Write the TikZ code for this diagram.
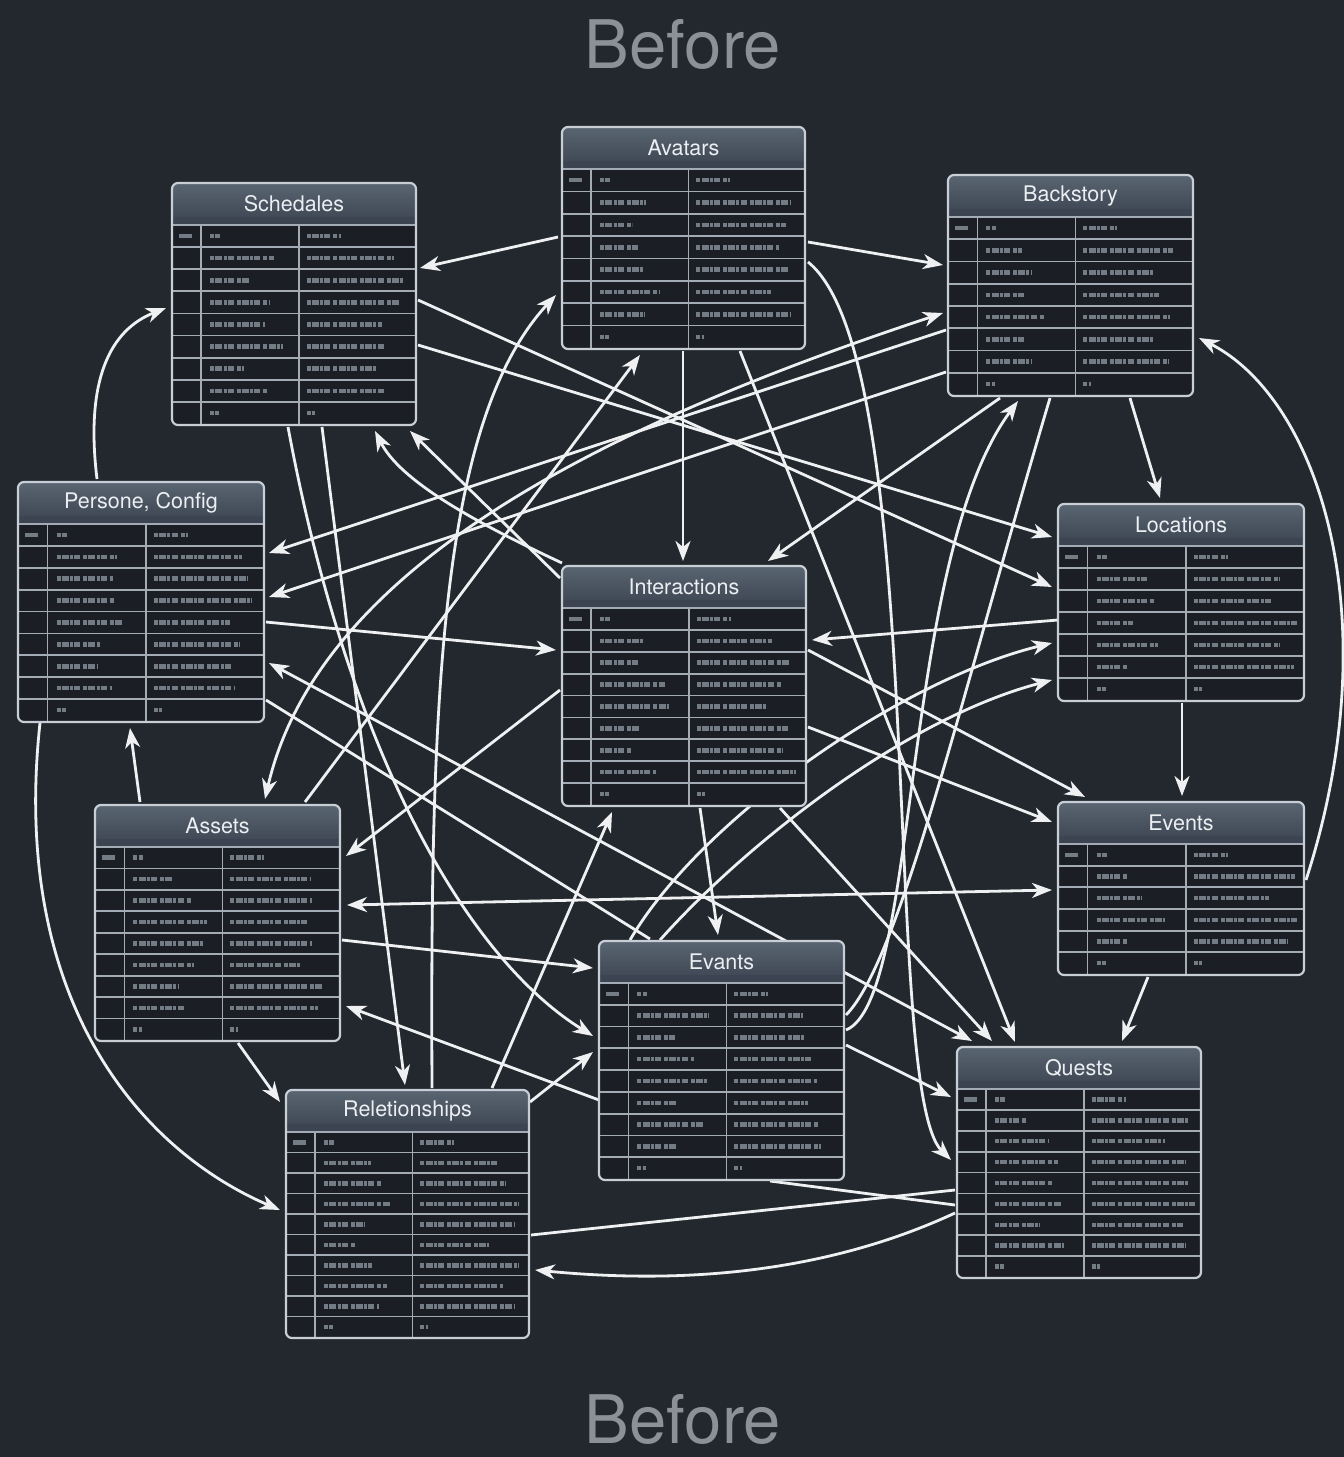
\documentclass[tikz,border=0pt]{standalone}
\usepackage{fontspec}
\setmainfont{TeX Gyre Heros}
\usetikzlibrary{arrows.meta,calc}
\definecolor{bgc}{HTML}{23282F}
\definecolor{hdrtop}{HTML}{5A6572}
\definecolor{hdrbot}{HTML}{3B4450}
\definecolor{bodyc}{HTML}{1B1F25}
\definecolor{gridc}{HTML}{A3ABB5}
\definecolor{borderc}{HTML}{C8CED6}
\definecolor{txtc}{HTML}{ECEFF2}
\definecolor{blurc}{HTML}{8A929C}
\definecolor{linec}{HTML}{EEF0F2}
\definecolor{titlec}{HTML}{8C9199}
\pgfdeclarelayer{bg}\pgfdeclarelayer{edges}\pgfsetlayers{bg,edges,main}
\tikzset{
 tbl/.style={fill=bodyc, inner sep=0pt, outer sep=0pt, rectangle, rounded corners=6pt},
 hdrtext/.style={text=txtc, font=\fontsize{21.5}{22}\selectfont, inner sep=0pt},
 bigtitle/.style={text=titlec, font=\fontsize{67}{67}\selectfont, inner sep=0pt},
 gridln/.style={draw=gridc, line width=1.7pt},
 tblborder/.style={draw=borderc, line width=2.2pt, rounded corners=6pt},
 blurtxt/.style={draw=blurc, line width=4.5pt, opacity=0.8, dash pattern=on 4pt off 1.2pt on 7pt off 1.2pt on 3pt off 1.2pt on 6pt off 3pt},
 conn/.style={draw=linec, line width=2.8pt, -{Stealth[length=20pt,width=15pt,inset=6pt]}},
 connb/.style={draw=linec, line width=2.8pt, {Stealth[length=20pt,width=15pt,inset=6pt]}-{Stealth[length=20pt,width=15pt,inset=6pt]}},
 pline/.style={draw=linec, line width=2.8pt},
}
\newcommand\dbtab[7]{%
 \pgfmathsetmacro\tw{#4-#2}%
 \pgfmathsetmacro\tht{#5-#3}%
 \pgfmathsetmacro\hy{#3+41}%
 \pgfmathsetmacro\ry{#3+42}%
 \pgfmathsetmacro\rh{(#5-1-\ry)/#6}%
 \pgfmathsetmacro\ca{#2+0.12*\tw}%
 \pgfmathsetmacro\cb{#2+0.52*\tw}%
 \pgfmathtruncatemacro\nm{#6-1}%
 \node[tbl, anchor=north west, minimum width=\tw pt, minimum height=\tht pt] (#1) at (#2,#3) {};
 \shade[top color=hdrtop, bottom color=hdrbot, rounded corners=6pt] (#2,#3) rectangle (#4,\hy);
 \fill[hdrbot] (#2,\hy-7) rectangle (#4,\hy);
 \node[hdrtext] (#1t) at ({(#2+#4)/2},{#3+21}) {#7};
 \foreach \k in {0,...,\nm}{\draw[gridln] (#2,{\ry+\k*\rh}) -- (#4,{\ry+\k*\rh});}
 \draw[gridln] (\ca,\hy) -- (\ca,#5);
 \draw[gridln] (\cb,\hy) -- (\cb,#5);
 \foreach \k in {1,...,#6}{%
   \pgfmathsetmacro\yy{\ry+(\k-0.5)*\rh}%
   \pgfmathsetmacro\la{ifthenelse(\k==1,10,ifthenelse(\k==#6,9,30+45*rnd))}%
   \pgfmathsetmacro\lb{ifthenelse(\k==1,34,ifthenelse(\k==#6,8,68+38*rnd))}%
   \draw[blurtxt] (\ca+9,\yy) -- ++(\la,0);
   \draw[blurtxt] (\cb+8,\yy) -- ++(\lb,0);
 }
 \draw[blurtxt, solid] (#2+7,{\ry+0.5*\rh}) -- ++(13,0);
 \draw[tblborder] (#1.north west) rectangle (#1.south east);
}
\begin{document}
\begin{tikzpicture}[x=1pt,y=-1pt]
\useasboundingbox (0,0) rectangle (1344,1457);
\pgfmathsetseed{11}
\begin{pgfonlayer}{bg}\fill[bgc] (0,0) rectangle (1344,1457);\end{pgfonlayer}
\node[bigtitle] (ttop) at (683,44) {Before};
\node[bigtitle] (tbot) at (683,1419) {Before};
\dbtab{av}{562}{127}{805}{349}{8}{Avatars}
\dbtab{sc}{172}{183}{416}{425}{9}{Schedales}
\dbtab{bs}{948}{175}{1193}{396}{8}{Backstory}
\dbtab{pc}{18}{482}{264}{722}{9}{Persone, Config}
\dbtab{lo}{1058}{504}{1304}{701}{7}{Locations}
\dbtab{in}{562}{566}{806}{806}{9}{Interactions}
\dbtab{as}{95}{805}{340}{1041}{9}{Assets}
\dbtab{ev}{1058}{802}{1304}{975}{6}{Events}
\dbtab{ea}{599}{941}{844}{1180}{9}{Evants}
\dbtab{re}{286}{1090}{529}{1338}{10}{Reletionships}
\dbtab{qu}{957}{1047}{1201}{1278}{9}{Quests}
\begin{pgfonlayer}{edges}
\draw[conn] ($(av.north west)+(-4,110)$) -- ($(sc.north west)+(248,85)$);
\draw[conn] ($(av.north west)+(246,115)$) -- ($(bs.north west)+(-5,90)$);
\draw[conn] ($(av.north west)+(121,224)$) -- ($(in.north west)+(121,-5)$);
\draw[conn] ($(av.north west)+(178,224)$) -- ($(qu.north west)+(58,-5)$);
\draw[conn] ($(av.north west)+(246,135)$) .. controls (930,360) and (880,1090) .. ($(qu.north west)+(-6,113)$);
\draw[conn] ($(pc.north west)+(79,-3)$) .. controls (85,380) and (110,330) .. ($(sc.north west)+(-6,125)$);
\draw[conn] ($(as.north west)+(45,-3)$) -- ($(pc.north west)+(112,246)$);
\draw[conn] ($(pc.north west)+(22,241)$) .. controls (10,1000) and (140,1150) .. ($(re.north west)+(-6,120)$);
\draw[conn] ($(bs.north west)+(182,223)$) -- ($(lo.north west)+(102,-6)$);
\draw[conn] ($(lo.north west)+(124,199)$) -- ($(ev.north west)+(124,-6)$);
\draw[conn] ($(ev.north west)+(90,175)$) -- ($(qu.north west)+(165,-6)$);
\draw[conn] ($(ev.north west)+(248,78)$) .. controls (1390,620) and (1320,400) .. ($(bs.north west)+(251,163)$);
\draw[pline] ($(re.north west)+(245,145)$) -- ($(qu.north west)+(-2,143)$);
\draw[conn] ($(qu.north west)+(-2,166)$) .. controls (800,1285) and (640,1280) .. ($(re.north west)+(249,180)$);
\draw[pline] ($(ea.north west)+(171,240)$) -- ($(qu.north west)+(-2,158)$);
\draw[conn] ($(as.north west)+(143,238)$) -- ($(re.north west)+(-6,12)$);
\draw[conn] ($(sc.north west)+(150,244)$) -- ($(re.north west)+(119,-5)$);
\draw[conn] ($(ea.north west)+(247,104)$) -- ($(qu.north west)+(-6,50)$);
\draw[conn] ($(ea.north west)+(247,89)$) .. controls (920,1000) and (900,560) .. ($(bs.north west)+(70,226)$);
\draw[pline] ($(bs.north west)+(102,223)$) .. controls (960,700) and (900,960) .. ($(ea.north west)+(247,74)$);
\draw[conn] ($(bs.north west)+(52,223)$) -- ($(in.north west)+(206,-5)$);
\draw[conn] ($(bs.north west)+(-2,155)$) -- ($(pc.north west)+(251,71)$);
\draw[conn] ($(bs.north west)+(-2,197)$) -- ($(pc.north west)+(251,115)$);
\draw[connb] ($(as.north west)+(170,-6)$) .. controls (320,560) and (620,420) .. ($(bs.north west)+(-5,138)$);
\draw[conn] ($(pc.north west)+(248,140)$) -- ($(in.north west)+(-6,84)$);
\draw[conn] ($(in.north west)+(-2,124)$) -- ($(as.north west)+(251,51)$);
\draw[connb] ($(pc.north west)+(251,181)$) -- ($(qu.north west)+(15,-6)$);
\draw[conn] ($(re.north west)+(206,-2)$) -- ($(in.north west)+(50,246)$);
\draw[conn] ($(re.north west)+(146,-2)$) .. controls (430,700) and (440,420) .. ($(av.north west)+(-6,168)$);
\draw[conn] ($(as.north west)+(210,-3)$) -- ($(av.north west)+(78,228)$);
\draw[conn] ($(as.north west)+(247,135)$) -- ($(ea.north west)+(-6,27)$);
\draw[conn] ($(ea.north west)+(0,159)$) -- ($(as.north west)+(251,201)$);
\draw[conn] ($(sc.north west)+(116,244)$) .. controls (350,760) and (470,960) .. ($(ea.north west)+(-6,95)$);
\draw[conn] ($(re.north west)+(244,12)$) -- ($(ea.north west)+(-6,111)$);
\draw[conn] ($(ea.north west)+(31,-1)$) .. controls (700,820) and (900,680) .. ($(lo.north west)+(-6,139)$);
\draw[conn] ($(ea.north west)+(61,-1)$) .. controls (740,850) and (900,720) .. ($(lo.north west)+(-6,176)$);
\draw[conn] ($(lo.north west)+(0,116)$) -- ($(in.north west)+(250,74)$);
\draw[conn] ($(in.north west)+(246,84)$) -- ($(ev.north west)+(27,-5)$);
\draw[conn] ($(in.north west)+(246,161)$) -- ($(ev.north west)+(-6,20)$);
\draw[conn] ($(in.north west)+(138,242)$) -- ($(ea.north west)+(119,-6)$);
\draw[conn] ($(in.north west)+(218,242)$) -- ($(qu.north west)+(35,-6)$);
\draw[conn] ($(sc.north west)+(246,117)$) -- ($(lo.north west)+(-6,83)$);
\draw[conn] ($(sc.north west)+(246,162)$) -- ($(lo.north west)+(-6,33)$);
\draw[conn] ($(in.north west)+(0,-3)$) .. controls (470,520) and (400,480) .. ($(sc.north west)+(203,248)$);
\draw[conn] ($(in.north west)+(-2,12)$) -- ($(sc.north west)+(238,248)$);
\draw[connb] ($(as.north west)+(252,100)$) -- ($(ev.north west)+(-6,88)$);
\draw[pline] ($(pc.north west)+(248,218)$) -- ($(ea.north west)+(51,-2)$);
\end{pgfonlayer}
\end{tikzpicture}
\end{document}
